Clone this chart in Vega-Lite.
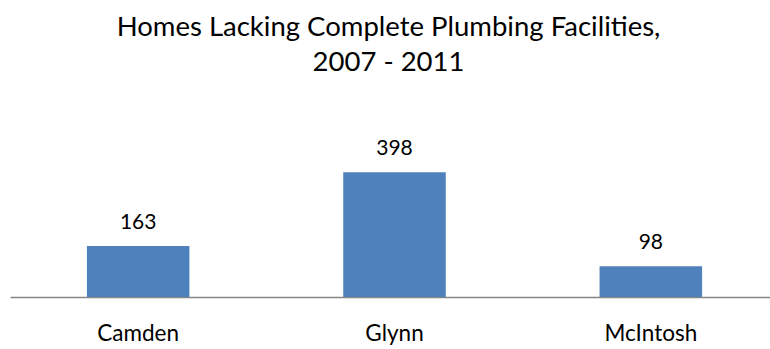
{
  "$schema": "https://vega.github.io/schema/vega-lite/v6.json",
  "width": 769,
  "height": 141,
  "autosize": {"type": "none"},
  "padding": {"left": 10, "top": 156, "right": 0, "bottom": 52},
  "background": "white",
  "title": {
    "text": ["Homes Lacking Complete Plumbing Facilities,", "2007 - 2011"],
    "font": "Lato",
    "fontSize": 27.5,
    "fontWeight": "normal",
    "color": "#000000",
    "lineHeight": 35,
    "anchor": "middle",
    "dx": -6,
    "offset": 62
  },
  "data": {
    "values": [
      {"county": "Camden", "homes": 163},
      {"county": "Glynn", "homes": 398},
      {"county": "McIntosh", "homes": 98}
    ]
  },
  "config": {"view": {"stroke": null}},
  "encoding": {
    "x": {
      "field": "county",
      "type": "nominal",
      "sort": null,
      "scale": {"paddingInner": 0.6, "paddingOuter": 0.3},
      "axis": {
        "title": null,
        "labelAngle": 0,
        "labelFont": "Lato",
        "labelFontSize": 22.5,
        "labelColor": "#000000",
        "labelPadding": 25,
        "ticks": false,
        "domainColor": "#868686",
        "domainWidth": 1.5
      }
    },
    "y": {
      "field": "homes",
      "type": "quantitative",
      "scale": {"domain": [0, 450]},
      "axis": null
    }
  },
  "layer": [
    {"mark": {"type": "bar", "color": "#4F81BD"}},
    {
      "mark": {"type": "text", "baseline": "bottom", "dy": -13, "font": "Lato", "fontSize": 21, "color": "#000000"},
      "encoding": {"text": {"field": "homes", "type": "quantitative"}}
    }
  ]
}
